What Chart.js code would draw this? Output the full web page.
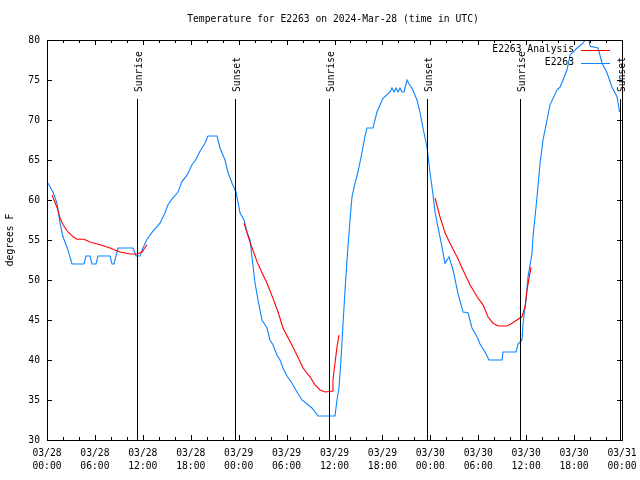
<!DOCTYPE html>
<html>
<head>
<meta charset="utf-8">
<script src="https://cdn.jsdelivr.net/npm/chart.js@4/dist/chart.umd.min.js"></script>
<style>
  body { margin: 0; background: #fff; }
  #wrap { width: 640px; height: 480px; }
</style>
</head>
<body>
<div id="wrap"><canvas id="tempChart" width="640" height="480"></canvas></div>
<script>
// hours since 03/28 00:00 UTC
const obsHours = [0.13, 0.75, 1.25, 1.63, 2.0, 2.5, 2.88, 3.13, 4.63, 4.88, 5.38, 5.63, 6.14, 6.39, 7.89, 8.14, 8.39, 8.89, 10.77, 11.14,
  11.65, 12.02, 12.52, 13.27, 14.15, 14.78, 15.15, 15.65, 16.4, 16.9, 17.53, 18.16, 18.66, 19.16, 19.78, 20.16, 21.29, 21.66, 22.29, 22.67,
  23.17, 23.67, 24.17, 24.67, 25.04, 25.42, 26.05, 26.42, 26.92, 27.55, 27.92, 28.3, 28.8, 29.18, 29.55, 30.05, 30.68, 31.3, 31.93, 33.18,
  33.94, 36.06, 36.31, 36.56, 36.81, 37.07, 37.32, 37.57, 37.75, 37.94, 38.19, 38.57, 38.94, 39.45, 39.82, 40.07, 40.82, 41.32, 42.07, 42.95,
  43.2, 43.45, 43.7, 43.95, 44.2, 44.45, 44.7, 45.08, 45.33, 45.7, 46.33, 46.7, 47.08, 47.58, 47.96, 48.21, 48.59, 48.96, 49.46, 49.84,
  50.34, 50.84, 51.47, 52.09, 52.72, 53.22, 53.85, 54.22, 54.85, 55.35, 56.98, 57.1, 58.73, 58.98, 59.48, 59.61, 59.98, 60.23, 60.73, 60.86,
  61.36, 61.74, 62.11, 62.61, 62.99, 63.86, 64.24, 64.61, 65.11, 65.49, 66.37, 67.12, 67.37, 67.87, 68.0, 69.0, 69.5, 70.12, 70.75, 71.38, 71.69];
const obsTemps = [62.1, 61.0, 59.6, 57.1, 55.4, 54.1, 52.9, 52.0, 52.0, 53.0, 53.0, 52.0, 52.0, 53.0, 53.0, 52.0, 52.0, 54.0, 54.0, 53.0,
  53.0, 54.0, 55.1, 56.1, 57.1, 58.4, 59.4, 60.1, 61.0, 62.3, 63.1, 64.4, 65.1, 66.1, 67.1, 68.0, 68.0, 66.5, 65.0, 63.4,
  62.1, 61.0, 58.4, 57.5, 56.0, 55.0, 49.6, 47.5, 45.0, 44.0, 42.5, 41.9, 40.6, 40.0, 39.0, 38.0, 37.1, 36.0, 35.0, 34.0,
  33.0, 33.0, 35.0, 36.5, 40.0, 44.6, 48.75, 52.5, 55.0, 57.5, 60.4, 62.1, 63.5, 66.0, 68.0, 69.0, 69.0, 71.0, 72.7, 73.5,
  74.0, 73.5, 74.0, 73.5, 74.0, 73.5, 73.5, 75.0, 74.5, 74.0, 72.5, 71.0, 69.0, 66.6, 63.4, 61.6, 58.5, 56.6, 54.1, 52.1,
  52.9, 51.25, 48.3, 46.0, 45.9, 44.0, 42.9, 42.0, 41.0, 40.0, 40.0, 41.0, 41.0, 42.0, 42.5, 44.6, 47.5, 50.4, 53.3, 55.4,
  60.4, 64.6, 67.5, 70.0, 71.9, 73.75, 74.1, 75.0, 76.25, 78.1, 79.0, 79.6, 80.0, 80.0, 79.2, 79.0, 77.1, 75.9, 74.1, 72.9, 71.0];

// analysis, null = gap
const anaHours = [0.63, 1.25, 1.63, 2.0, 2.63, 3.26, 3.76, 4.63, 5.38, 6.64, 7.89, 9.14, 10.39, 11.27, 11.9, 12.52,
  18.0,
  24.67, 25.42, 26.3, 26.92, 27.55, 28.3, 28.93, 29.55, 30.43, 31.3, 32.06, 32.93, 33.56, 34.19, 34.81, 35.69, 35.81, 36.06, 36.31, 36.56,
  42.0,
  48.59, 49.21, 49.84, 50.46, 51.34, 52.09, 52.97, 53.85, 54.6, 55.22, 55.85, 56.48, 57.6, 58.23, 58.98, 59.48, 59.86, 60.11, 60.48, 60.61];
const anaTemps = [60.6, 59.1, 57.75, 56.9, 56.0, 55.4, 55.1, 55.1, 54.75, 54.4, 54.0, 53.5, 53.25, 53.25, 53.5, 54.4,
  null,
  57.1, 54.75, 52.3, 50.9, 49.6, 47.7, 46.0, 44.0, 42.3, 40.6, 39.0, 37.9, 36.9, 36.25, 36.0, 36.1, 37.5, 39.6, 41.6, 43.1,
  null,
  60.25, 57.9, 55.9, 54.6, 52.9, 51.25, 49.4, 47.9, 46.9, 45.4, 44.6, 44.25, 44.25, 44.6, 45.1, 45.4, 46.7, 48.75, 50.9, 51.6];

const sunHours = [11.3, 23.57, 35.33, 47.6, 59.24, 71.7];
const sunLabels = ['Sunrise', 'Sunset', 'Sunrise', 'Sunset', 'Sunrise', 'Sunset'];

const tickDates = ['03/28', '03/28', '03/28', '03/28', '03/29', '03/29', '03/29', '03/29', '03/30', '03/30', '03/30', '03/30', '03/31'];
const tickTimes = ['00:00', '06:00', '12:00', '18:00', '00:00', '06:00', '12:00', '18:00', '00:00', '06:00', '12:00', '18:00', '00:00'];

const FONT = '9.7px "DejaVu Sans Mono", monospace';

function toPoints(xs, ys) {
    return xs.map((x, i) => ({ x: x, y: ys[i] }));
}

// gnuplot style frame, inward ticks, sun lines, title and legend
const gnuplotLook = {
    id: 'gnuplotLook',
    afterDatasetsDraw(chart) {
        const ctx = chart.ctx;
        const a = chart.chartArea;
        const xs = chart.scales.x;
        const ys = chart.scales.y;
        ctx.save();
        ctx.strokeStyle = '#000';
        ctx.lineWidth = 1;

        // frame
        ctx.strokeRect(Math.round(a.left) + 0.5, Math.round(a.top) + 0.5,
            Math.round(a.right - a.left), Math.round(a.bottom - a.top));

        // x ticks, every 2 h, bigger every 6 h
        ctx.beginPath();
        for (let h = 0; h <= 72; h += 2) {
            const px = Math.round(xs.getPixelForValue(h)) + 0.5;
            const len = (h % 6 === 0) ? 5 : 3;
            ctx.moveTo(px, a.bottom);
            ctx.lineTo(px, a.bottom - len);
            ctx.moveTo(px, a.top);
            ctx.lineTo(px, a.top + len);
        }
        // y ticks
        ys.ticks.forEach(t => {
            const py = Math.round(ys.getPixelForValue(t.value)) + 0.5;
            ctx.moveTo(a.left, py);
            ctx.lineTo(a.left + 5, py);
            ctx.moveTo(a.right, py);
            ctx.lineTo(a.right - 5, py);
        });
        ctx.stroke();

        // sunrise / sunset
        ctx.font = FONT;
        ctx.fillStyle = '#000';
        sunHours.forEach((h, i) => {
            const px = Math.round(xs.getPixelForValue(h)) + 0.5;
            ctx.beginPath();
            ctx.moveTo(px, a.top + 59);
            ctx.lineTo(px, a.bottom);
            ctx.stroke();
            ctx.save();
            ctx.translate(px + 4, a.top + 52);
            ctx.rotate(-Math.PI / 2);
            ctx.textAlign = 'left';
            ctx.textBaseline = 'alphabetic';
            ctx.fillText(sunLabels[i], 0, 0);
            ctx.restore();
        });

        // legend
        ctx.textAlign = 'right';
        ctx.textBaseline = 'middle';
        chart.data.datasets.forEach((ds, i) => {
            const y = a.top + 9.5 + i * 13;
            ctx.fillStyle = '#000';
            ctx.fillText(ds.label, 574, y);
            ctx.strokeStyle = ds.borderColor;
            ctx.beginPath();
            ctx.moveTo(581, Math.round(y) + 0.5);
            ctx.lineTo(610, Math.round(y) + 0.5);
            ctx.stroke();
        });

        // title and y label
        ctx.fillStyle = '#000';
        ctx.textAlign = 'center';
        ctx.textBaseline = 'middle';
        ctx.fillText('Temperature for E2263 on 2024-Mar-28 (time in UTC)', 333, 19);
        ctx.save();
        ctx.translate(10, 240);
        ctx.rotate(-Math.PI / 2);
        ctx.fillText('degrees F', 0, 0);
        ctx.restore();
        ctx.restore();
    }
};

const chart = new Chart(document.getElementById('tempChart').getContext('2d'), {
    type: 'line',
    data: {
        datasets: [
            {
                label: 'E2263 Analysis',
                data: toPoints(anaHours, anaTemps),
                borderColor: '#ff0000',
                borderWidth: 1.1,
                pointRadius: 0,
                spanGaps: false
            },
            {
                label: 'E2263',
                data: toPoints(obsHours, obsTemps),
                borderColor: '#0a84ff',
                borderWidth: 1.1,
                pointRadius: 0
            }
        ]
    },
    options: {
        responsive: false,
        animation: false,
        events: [],
        layout: { padding: { top: 40, right: 18, left: 0, bottom: 0 } },
        plugins: {
            legend: { display: false },
            tooltip: { enabled: false }
        },
        scales: {
            x: {
                type: 'linear',
                min: 0,
                max: 72,
                grid: { display: false, drawTicks: false },
                border: { display: false },
                afterFit: s => {
                    s.height = 40;
                    s.paddingLeft = 0;
                    s.paddingRight = 0;
                },
                afterBuildTicks: s => {
                    s.ticks = tickDates.map((d, i) => ({ value: i * 6 }));
                },
                ticks: {
                    autoSkip: false,
                    maxRotation: 0,
                    padding: 7,
                    color: '#000',
                    font: { family: '"DejaVu Sans Mono", monospace', size: 9.7, lineHeight: 1.35 },
                    callback: (v, i) => [tickDates[i], tickTimes[i]]
                }
            },
            y: {
                min: 30,
                max: 80,
                grid: { display: false, drawTicks: false },
                border: { display: false },
                afterFit: s => {
                    s.width = 47;
                    s.paddingTop = 0;
                    s.paddingBottom = 0;
                },
                ticks: {
                    stepSize: 5,
                    padding: 7,
                    color: '#000',
                    font: { family: '"DejaVu Sans Mono", monospace', size: 9.7 }
                }
            }
        }
    },
    plugins: [gnuplotLook]
});
</script>
</body>
</html>
